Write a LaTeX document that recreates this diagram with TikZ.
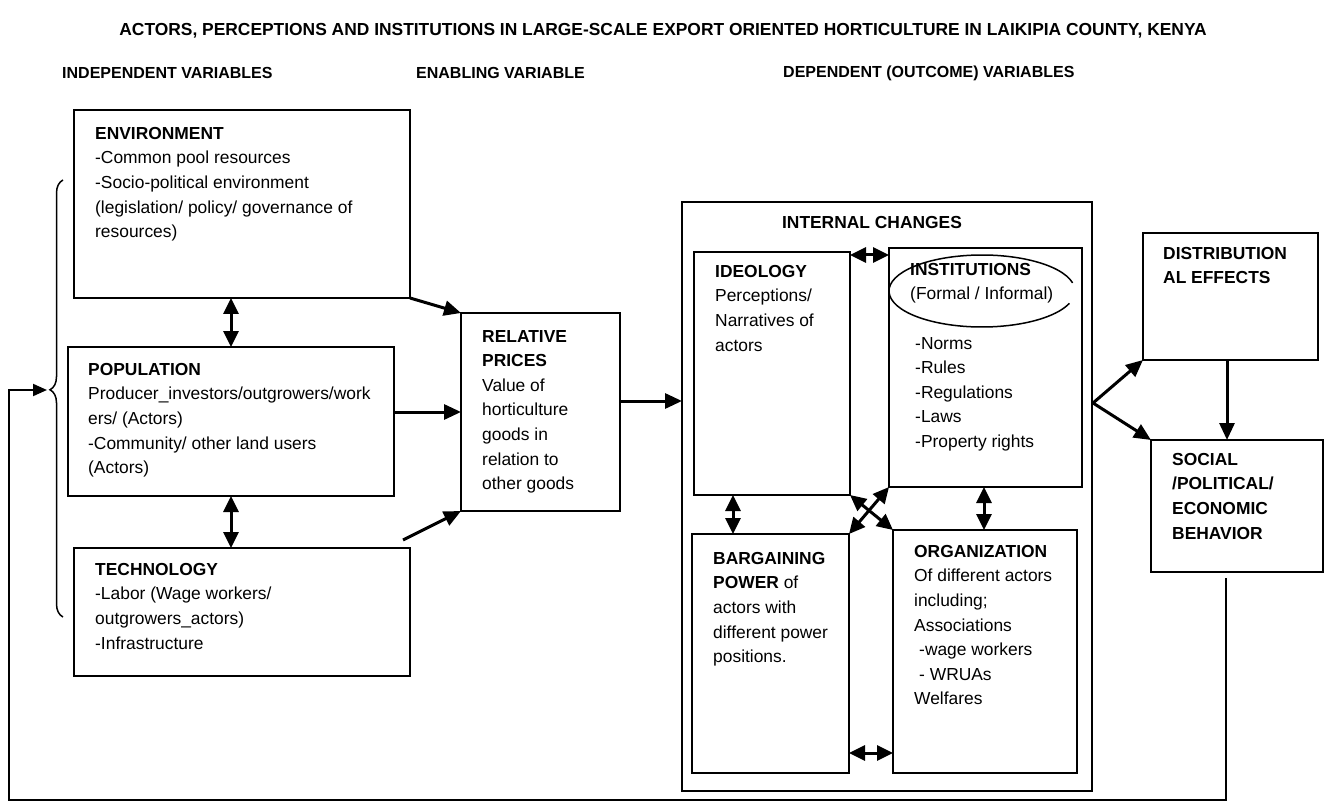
\documentclass[tikz,border=0pt]{standalone}
\usepackage{fontspec}
\setmainfont{Liberation Sans}
\usetikzlibrary{calc,arrows.meta,decorations.pathreplacing}
\tikzset{
  box/.style={draw, line width=2pt, anchor=north west, inner sep=0pt, outer sep=0pt},
  txt/.style={anchor=north west, align=left, inner sep=0pt},
  head/.style={anchor=west, inner sep=0pt, font=\fontsize{16pt}{20pt}\selectfont\bfseries},
  arr/.style={line width=3pt, -{Triangle[length=17pt,width=15pt]}},
  dbl/.style={line width=3pt, {Triangle[length=16pt,width=15pt]}-{Triangle[length=16pt,width=15pt]}},
}
\begin{document}
\begin{tikzpicture}[x=1pt, y=-1pt, font=\fontsize{17.4pt}{24.6pt}\selectfont]
\useasboundingbox (0,0) rectangle (1325,810);
% headings
\node [anchor=center, inner sep=0pt] (title) at (663,31) {\textbf{ACTORS, PERCEPTIONS AND INSTITUTIONS IN LARGE-SCALE EXPORT ORIENTED HORTICULTURE IN LAIKIPIA COUNTY, KENYA}};
\node [head] (indep) at (62,73) {INDEPENDENT VARIABLES};
\node [head] (enab) at (416,73) {ENABLING VARIABLE};
\node [head] (dep) at (783,73) {DEPENDENT (OUTCOME) VARIABLES};
% independent variables
\node [box, minimum width=336pt, minimum height=188pt] (env) at (74,110) {};
\node [txt] (envtxt) at (95,127) {\textbf{ENVIRONMENT}\\-Common pool resources\\-Socio-political environment\\(legislation/ policy/ governance of\\resources)};
\node [box, minimum width=326pt, minimum height=149pt] (pop) at (68,347) {};
\node [txt] (poptxt) at (88,363) {\textbf{POPULATION}\\Producer\_investors/outgrowers/work\\ers/ (Actors)\\-Community/ other land users\\(Actors)};
\node [box, minimum width=336pt, minimum height=128pt] (tech) at (74,548) {};
\node [txt] (techtxt) at (95,563) {\textbf{TECHNOLOGY}\\-Labor (Wage workers/\\outgrowers\_actors)\\-Infrastructure};
\draw [line width=1.5pt, decorate, decoration={brace, amplitude=13pt, aspect=0.52}] (63,617) -- (63,180);
\coordinate (bracetip) at (47,390);
% enabling variable
\node [box, minimum width=159pt, minimum height=198pt] (rp) at (461,313) {};
\node [txt] (rptxt) at (482,330) {\textbf{RELATIVE}\\\textbf{PRICES}\\Value of\\horticulture\\goods in\\relation to\\other goods};
% internal changes
\node [box, minimum width=410pt, minimum height=589pt] (internal) at (682,202) {};
\node [anchor=center, inner sep=0pt] (intlabel) at (872,223) {\textbf{INTERNAL CHANGES}};
\node [box, minimum width=156pt, minimum height=243pt] (ideo) at (694,252) {};
\node [txt] (ideotxt) at (715,265) {\textbf{IDEOLOGY}\\Perceptions/\\Narratives of\\actors};
\node [box, minimum width=193pt, minimum height=239pt] (inst) at (889,248) {};
\node [txt] (insttxt) at (910,263) {\textbf{INSTITUTIONS}\\(Formal / Informal)};
\node [txt] (instlist) at (915,337) {-Norms\\-Rules\\-Regulations\\-Laws\\-Property rights};
\coordinate (ovalc) at (982,291);
\draw [line width=1.5pt] (ovalc) ++(13:93pt and 36pt) arc [start angle=13, end angle=340, x radius=93pt, y radius=36pt];
\node [box, minimum width=157pt, minimum height=239pt] (barg) at (692,534) {};
\node [txt] (bargtxt) at (713,552) {\textbf{BARGAINING}\\\textbf{POWER} of\\actors with\\different power\\positions.};
\node [box, minimum width=184pt, minimum height=243pt] (org) at (893,530) {};
\node [txt] (orgtxt) at (914,545) {\textbf{ORGANIZATION}\\Of different actors\\including;\\Associations\\\hspace*{5pt}-wage workers\\\hspace*{5pt}- WRUAs\\Welfares};
% outcomes
\node [box, minimum width=175pt, minimum height=127pt] (dist) at (1143,233) {};
\node [txt] (disttxt) at (1163,247) {\textbf{DISTRIBUTION}\\\textbf{AL EFFECTS}};
\node [box, minimum width=172pt, minimum height=132pt] (social) at (1151,440) {};
\node [txt] (socialtxt) at (1172,453) {\textbf{SOCIAL}\\\textbf{/POLITICAL/}\\\textbf{ECONOMIC}\\\textbf{BEHAVIOR}};
% connectors
\draw [dbl] (pop.north |- env.south) -- (pop.north);
\draw [dbl] (pop.south) -- (pop.south |- tech.north);
\draw [arr] (env.south east) -- (rp.north west);
\draw [arr] (pop.east |- rp.west) -- (rp.west);
\draw [arr] ([xshift=-7pt,yshift=8pt]tech.north east) -- (rp.south west);
\coordinate (rpout) at ([yshift=11pt]rp.east);
\draw [arr] (rpout) -- (rpout -| internal.west);
\coordinate (ideoout) at ([yshift=-3pt]ideo.north east);
\draw [dbl] (ideoout) -- (ideoout -| inst.west);
\coordinate (ideodown) at ([xshift=39pt]ideo.south west);
\draw [dbl] (ideodown) -- (ideodown |- barg.north);
\coordinate (instdown) at ([xshift=95pt]inst.south west);
\draw [dbl] (instdown) -- (instdown |- org.north);
\draw [dbl] (ideo.south east) -- (org.north west);
\draw [dbl] (inst.south west) -- (barg.north east);
\coordinate (bargout) at ([yshift=20pt]barg.south east);
\draw [dbl] (bargout) -- (bargout -| org.west);
\coordinate (split) at (1093,403);
\draw [arr] (split) -- (dist.south west);
\draw [arr] (split) -- (social.north west);
\coordinate (distdown) at ([xshift=-3.5pt]dist.south);
\draw [arr] (distdown) -- (distdown |- social.north);
% feedback
\draw [line width=2pt, -{Triangle[length=14pt,width=12pt]}] ([xshift=-11pt,yshift=-6pt]social.south) -- (1226,800) -| (9,390) -- (bracetip);
\end{tikzpicture}
\end{document}
